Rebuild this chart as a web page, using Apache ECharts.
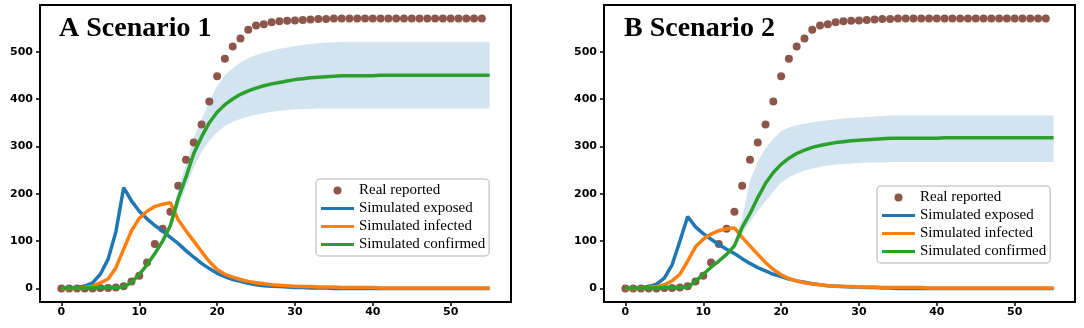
<!DOCTYPE html>
<html>
<head>
<meta charset="utf-8">
<script src="https://cdn.jsdelivr.net/npm/echarts@6/dist/echarts.min.js"></script>
<style>
  html, body { margin: 0; padding: 0; background: #fff; }
  #chart { width: 1084px; height: 328px; }
</style>
</head>
<body>
<div id="chart"></div>
<script>
// x ticks / y ticks
var xTicks = [0, 10, 20, 30, 40, 50];
var yTicks = [0, 100, 200, 300, 400, 500];
var seriesNames = ["Real reported", "Simulated exposed", "Simulated infected", "Simulated confirmed"];

// real reported, days 0..54 (same in both panels)
var realReported = [0,0,0,0,0,1,1,2,5,15, 27,55,94,126,162,217,272,308,346,395, 448,485,511,528,546,555,558,562,564,565, 566,567,568,569,569,570,570,570,570,570, 570,570,570,570,570,570,570,570,570,570, 570,570,570,570,570];

// scenario 1, days 0..55
var exposedA = [0,1,2,5,12,30,62,120,213,185, 163,147,133,121,108,95,80,66,53,42, 32,25,19,15,11,8,6,5,4,3, 2,2,1,1,1,0,0,0,0,0, 0,0,0,0,0,0,0,0,0,0, 0,0,0,0,0,0];
var infectedA = [0,0,1,2,5,12,20,44,83,122, 148,163,173,178,181,145,122,100,78,57, 40,30,24,19,15,12,10,8,7,6, 5,4,4,3,3,3,2,2,2,2, 2,1,1,1,1,1,1,1,1,1, 1,1,1,1,1,1];
var confirmedA = [1,1,1,1,1,2,2,2,3,13, 30,50,74,100,133,190,235,285,320,350, 372,388,400,410,417,423,428,432,435,438, 441,443,445,446,447,448,449,449,449,449, 449,450,450,450,450,450,450,450,450,450, 450,450,450,450,450,450];
// uncertainty band, from day 12
var bandStartA = 12;
var bandLowA = [72,96,125,170,212,255,288,312, 330,343,352,358,363,367,370,373,375,377, 378,379,379,380,380,380,380,380,380,380, 380,380,380,380,380,380,380,380,380,380,380,380,380,380,380,380];
var bandHighA = [76,104,142,212,262,318,357,395, 428,450,465,477,486,493,498,502,506,509, 512,514,516,518,519,520,521,521,521,521, 521,521,521,521,521,521,521,521,521,521,521,521,521,521,521,521];

// scenario 2, days 0..55
var exposedB = [0,1,2,4,9,22,50,100,152,130, 116,104,93,83,74,63,53,44,37,30, 25,20,16,13,10,8,6,5,4,3, 3,2,2,1,1,0,0,0,0,0, 0,0,0,0,0,0,0,0,0,0, 0,0,0,0,0,0];
var infectedB = [0,0,1,2,4,8,16,30,58,88, 104,115,122,126,128,108,90,72,55,40, 29,21,16,12,10,8,6,5,4,4, 3,3,3,2,2,2,2,2,2,1, 1,1,1,1,1,1,1,1,1,1, 1,1,1,1,1,1];
var confirmedB = [1,1,1,1,1,2,2,2,3,15, 30,45,58,72,90,129,158,192,222,245, 262,275,285,292,298,302,305,308,310,312, 313,314,315,316,317,317,317,317,317,317, 317,318,318,318,318,318,318,318,318,318, 318,318,318,318,318,318];
var bandStartB = 13;
var bandLowB = [70,84,115,140,164,184,205, 224,235,243,249,253,257,259,261,263,264, 265,266,266,266,267,267,267,267,267,267, 267,267,267,267,267,267,267,267,267,267,267,267,267,267,267,267];
var bandHighB = [76,98,150,228,268,296,316, 332,340,345,348,351,353,355,357,359,360, 361,362,363,364,365,365,365,365,365,365, 365,365,365,365,365,365,365,365,365,365,365,365,365,365,365,365];

var colors = {
  real: "#8c564b",
  exposed: "#1f77b4",
  infected: "#ff7f0e",
  confirmed: "#2ca02c",
  band: "rgba(31,119,180,0.2)"
};

// legend handle: a thick line inside an 33x8 box
var lineIcon = "path://M0,0 M0,2.4 L33,2.4 L33,5.6 L0,5.6 Z M33,8";

function pairs(start, values) {
  return values.map(function (v, i) { return [start + i, v]; });
}

function bandSeries(idx, start, low, high) {
  var rows = low.map(function (v, i) { return [start + i, v, high[i]]; });
  return {
    type: "custom", xAxisIndex: idx, yAxisIndex: idx, silent: true, z: 1,
    data: [0],
    renderItem: function (params, api) {
      var pts = [];
      rows.forEach(function (r) { pts.push(api.coord([r[0], r[2]])); });
      rows.slice().reverse().forEach(function (r) { pts.push(api.coord([r[0], r[1]])); });
      return { type: "polygon", shape: { points: pts }, style: { fill: colors.band } };
    }
  };
}

function panelSeries(idx, exposed, infected, confirmed, bandStart, low, high) {
  return [
    bandSeries(idx, bandStart, low, high),
    {
      name: seriesNames[0], type: "scatter", xAxisIndex: idx, yAxisIndex: idx,
      symbolSize: 8, z: 2, itemStyle: { color: colors.real, opacity: 1 },
      data: pairs(0, realReported)
    },
    {
      name: seriesNames[1], type: "line", xAxisIndex: idx, yAxisIndex: idx,
      symbol: "none", z: 3, color: colors.exposed,
      lineStyle: { width: 3.5, color: colors.exposed }, data: pairs(0, exposed)
    },
    {
      name: seriesNames[2], type: "line", xAxisIndex: idx, yAxisIndex: idx,
      symbol: "none", z: 4, color: colors.infected,
      lineStyle: { width: 3.5, color: colors.infected }, data: pairs(0, infected)
    },
    {
      name: seriesNames[3], type: "line", xAxisIndex: idx, yAxisIndex: idx,
      symbol: "none", z: 5, color: colors.confirmed,
      lineStyle: { width: 3.5, color: colors.confirmed }, data: pairs(0, confirmed)
    }
  ];
}

var labelStyle = { color: "#000", fontFamily: "DejaVu Sans", fontWeight: "bold", fontSize: 11 };

function xAxis(idx) {
  return {
    type: "value", gridIndex: idx, min: -2.75, max: 57.75,
    splitLine: { show: false },
    axisLine: { show: true, onZero: false, lineStyle: { color: "#000", width: 2 } },
    axisTick: { show: true, length: 4, customValues: xTicks, lineStyle: { color: "#000", width: 1.5 } },
    axisLabel: Object.assign({ margin: 5, customValues: xTicks }, labelStyle)
  };
}
function yAxis(idx) {
  return {
    type: "value", gridIndex: idx, min: -28.5, max: 598.5,
    splitLine: { show: false },
    axisLine: { show: true, onZero: false, lineStyle: { color: "#000", width: 2 } },
    axisTick: { show: true, length: 4, customValues: yTicks, lineStyle: { color: "#000", width: 1.5 } },
    axisLabel: Object.assign({ margin: 7, customValues: yTicks }, labelStyle)
  };
}

function legend(left, top) {
  return {
    orient: "vertical", left: left, top: top,
    data: [
      { name: seriesNames[0], icon: "circle" },
      { name: seriesNames[1], icon: lineIcon },
      { name: seriesNames[2], icon: lineIcon },
      { name: seriesNames[3], icon: lineIcon }
    ],
    itemWidth: 33, itemHeight: 8, itemGap: 3,
    padding: [4, 4, 4, 5],
    backgroundColor: "rgba(255,255,255,0.85)",
    borderColor: "#cccccc", borderWidth: 1.5, borderRadius: 4,
    selectedMode: false,
    textStyle: { fontFamily: "Liberation Serif", fontSize: 15, color: "#000", lineHeight: 14 }
  };
}

var option = {
  animation: false,
  backgroundColor: "#fff",
  title: [
    { text: "A Scenario 1", left: 54, top: 10,
      textStyle: { fontFamily: "Liberation Serif", fontWeight: "bold", fontSize: 28, color: "#000" } },
    { text: "B Scenario 2", left: 619, top: 10,
      textStyle: { fontFamily: "Liberation Serif", fontWeight: "bold", fontSize: 28, color: "#000" } }
  ],
  legend: [legend(316, 179), legend(877, 186)],
  grid: [
    { left: 40, top: 5, width: 471, height: 297, show: true, borderColor: "#000", borderWidth: 2 },
    { left: 604, top: 5, width: 471, height: 297, show: true, borderColor: "#000", borderWidth: 2 }
  ],
  xAxis: [xAxis(0), xAxis(1)],
  yAxis: [yAxis(0), yAxis(1)],
  series: panelSeries(0, exposedA, infectedA, confirmedA, bandStartA, bandLowA, bandHighA)
    .concat(panelSeries(1, exposedB, infectedB, confirmedB, bandStartB, bandLowB, bandHighB))
};

var chart = echarts.init(document.getElementById("chart"), null, { renderer: "canvas" });
chart.setOption(option);
</script>
</body>
</html>
